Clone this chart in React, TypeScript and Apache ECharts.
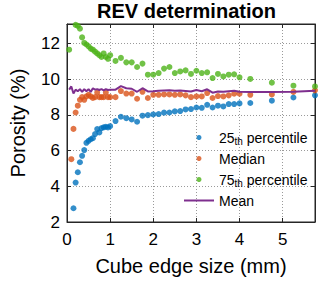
import React, { useEffect, useRef } from "react";
import * as echarts from "echarts";

const sizes = [
  0.05, 0.1, 0.15, 0.2, 0.25, 0.3, 0.35, 0.4, 0.45, 0.5,
  0.55, 0.6, 0.65, 0.7, 0.75, 0.8, 0.85, 0.9, 0.95, 1.0,
  1.125, 1.25, 1.375, 1.5, 1.625, 1.75, 1.875, 2.0, 2.125, 2.25,
  2.375, 2.5, 2.625, 2.75, 2.875, 3.0, 3.125, 3.25, 3.375, 3.5,
  3.625, 3.75, 3.875, 4.0, 4.25, 4.75, 5.25, 5.75,
];

const p25 = [
  null, null, 2.77, 4.21, 4.79, 5.35, 5.71, 6.03, 6.44, 6.55,
  6.64, 6.7, 6.93, 7.21, 7.02, 7.26, 7.31, 7.34, 7.3, 7.37,
  7.66, 7.9, 7.82, 7.75, 7.62, 7.96, 7.99, 8.03, 8.05, 8.13,
  8.14, 8.2, 8.22, 8.31, 8.33, 8.42, 8.4, 8.57, 8.42, 8.52,
  8.48, 8.61, 8.61, 8.65, 8.67, 8.8, 8.98, 9.1,
];

const median = [
  null, 5.52, 7.22, 8.14, 8.52, 8.85, 9.0, 8.85, 9.04, 9.13,
  9.04, 8.95, 9.0, 9.26, 9.0, 9.0, 9.0, 9.26, 9.0, 9.0,
  9.0, 9.34, 9.2, 9.2, 8.91, 9.3, 8.95, 9.13, 9.13, 9.15,
  9.15, 9.13, 9.15, 9.1, 9.0, 9.04, 9.04, 9.23, 8.95, 9.06,
  9.04, 9.1, 9.19, 9.19, 9.13, 9.15, 9.29, 9.38,
];

const p75 = [
  11.66, null, null, 13.05, 13.0, 12.84, 12.35, 12.04, 11.95, 11.85,
  11.72, 11.66, 11.55, 11.45, 11.35, 11.25, 11.45, 11.25, 11.15, 11.35,
  11.03, 11.2, 10.95, 10.95, 10.69, 10.88, 10.26, 10.26, 10.35, 10.6,
  10.69, 10.35, 10.44, 10.5, 10.3, 10.48, 10.35, 10.39, 10.07, 10.3,
  10.16, 10.26, 10.28, 10.11, 10.02, 9.81, 9.64, 9.6,
];

const mean = [
  9.42, 9.6, 9.2, 9.42, 9.33, 9.45, 9.29, 9.45, 9.33, 9.45,
  9.29, 9.5, 9.42, 9.45, 9.4, 9.45, 9.38, 9.45, 9.4, 9.42,
  9.42, 9.62, 9.5, 9.47, 9.3, 9.5, 9.32, 9.33, 9.36, 9.37,
  9.38, 9.36, 9.37, 9.35, 9.32, 9.4, 9.33, 9.44, 9.25, 9.32,
  9.3, 9.33, 9.36, 9.3, 9.29, 9.29, 9.3, 9.36,
];

const seriesNames = ["25th percentile", "Median", "75th percentile", "Mean"];
const colors = ["#0072BD", "#D95319", "#4DB319", "#7E2F8E"];

const FONT = "'Liberation Sans', Arial, Helvetica, sans-serif";
const AXIS = "#262626";

function pairs(vals: (number | null)[]) {
  return sizes
    .map((x, i) => [x, vals[i]])
    .filter((d) => d[1] !== null && d[1] !== undefined);
}

export default function App() {
  const ref = useRef<HTMLDivElement>(null);
  useEffect(() => {
    if (!ref.current) return;
    const chart = echarts.init(ref.current, undefined, { renderer: "svg" });
    const scatter = (idx: number, vals: (number | null)[]) => ({
      name: seriesNames[idx],
      type: "scatter",
      data: pairs(vals),
      symbol: "circle",
      symbolSize: 6,
      itemStyle: { color: colors[idx] },
      clip: true,
    });
    chart.setOption({
      animation: false,
      backgroundColor: "#ffffff",
      title: {
        text: "REV determination",
        left: 97,
        top: 0,
        padding: 0,
        textStyle: { fontFamily: FONT, fontSize: 20, fontWeight: "bold", color: "#000", lineHeight: 22 },
      },
      grid: {
        left: 53,
        right: 5,
        top: 24,
        bottom: 59,
        show: true,
        borderColor: AXIS,
        borderWidth: 1,
        backgroundColor: "#fff",
      },
      legend: {
        orient: "vertical",
        left: 183,
        top: 129,
        itemWidth: 30,
        itemHeight: 5,
        itemGap: 4,
        padding: 0,
        backgroundColor: "transparent",
        data: seriesNames.map((n, i) =>
          i === 3
            ? { name: n, itemStyle: { opacity: 0 } }
            : { name: n, icon: "circle" }
        ),
        formatter: (name: string) => {
          const m = name.match(/^(\d+)th (.*)$/);
          if (m) return `${m[1]}{sub|th} ${m[2]}`;
          return name;
        },
        textStyle: {
          fontFamily: FONT,
          fontSize: 14,
          color: "#000",
          lineHeight: 17,
          rich: {
            sub: { fontFamily: FONT, fontSize: 10, lineHeight: 17, verticalAlign: "bottom", padding: [4, 0, 0, 0] },
          },
        },
      },
      xAxis: [
        {
          type: "value",
          min: 0,
          max: 5.75,
          interval: 1,
          name: "Cube edge size (mm)",
          nameLocation: "middle",
          nameGap: 34,
          nameTextStyle: { fontFamily: FONT, fontSize: 20, color: "#000" },
          axisLine: { show: true, onZero: false, lineStyle: { color: AXIS } },
          axisTick: { show: true, inside: true, length: 4, lineStyle: { color: AXIS } },
          axisLabel: { fontFamily: FONT, fontSize: 17, color: "#000", margin: 9, showMaxLabel: false },
          splitLine: { show: true, lineStyle: { color: "#9a9a9a", type: [1, 2], width: 1 } },
        },
        {
          type: "value",
          position: "top",
          min: 0,
          max: 5.75,
          interval: 1,
          axisLine: { show: true, onZero: false, lineStyle: { color: AXIS } },
          axisTick: { show: true, inside: true, length: 4, lineStyle: { color: AXIS } },
          axisLabel: { show: false },
          splitLine: { show: false },
        },
      ],
      yAxis: [
        {
          type: "value",
          min: 2,
          max: 13.1,
          interval: 2,
          name: "Porosity (%)",
          nameLocation: "middle",
          nameGap: 39,
          nameTextStyle: { fontFamily: FONT, fontSize: 20, color: "#000" },
          axisLine: { show: true, onZero: false, lineStyle: { color: AXIS } },
          axisTick: { show: true, inside: true, length: 4, lineStyle: { color: AXIS } },
          axisLabel: { fontFamily: FONT, fontSize: 17, color: "#000", margin: 7, showMaxLabel: false },
          splitLine: { show: true, lineStyle: { color: "#9a9a9a", type: [1, 2], width: 1 } },
        },
        {
          type: "value",
          position: "right",
          min: 2,
          max: 13.1,
          interval: 2,
          axisLine: { show: true, onZero: false, lineStyle: { color: AXIS } },
          axisTick: { show: true, inside: true, length: 4, lineStyle: { color: AXIS } },
          axisLabel: { show: false },
          splitLine: { show: false },
        },
      ],
      series: [
        scatter(0, p25),
        scatter(1, median),
        scatter(2, p75),
        {
          name: seriesNames[3],
          type: "line",
          data: pairs(mean),
          showSymbol: false,
          symbol: "none",
          lineStyle: { color: colors[3], width: 2 },
          itemStyle: { color: colors[3] },
          z: 3,
        },
      ],
    });
    return () => chart.dispose();
  }, []);
  return (
    <div
      ref={ref}
      style={{ position: "fixed", left: 0, top: 0, width: 320, height: 281 }}
    />
  );
}
